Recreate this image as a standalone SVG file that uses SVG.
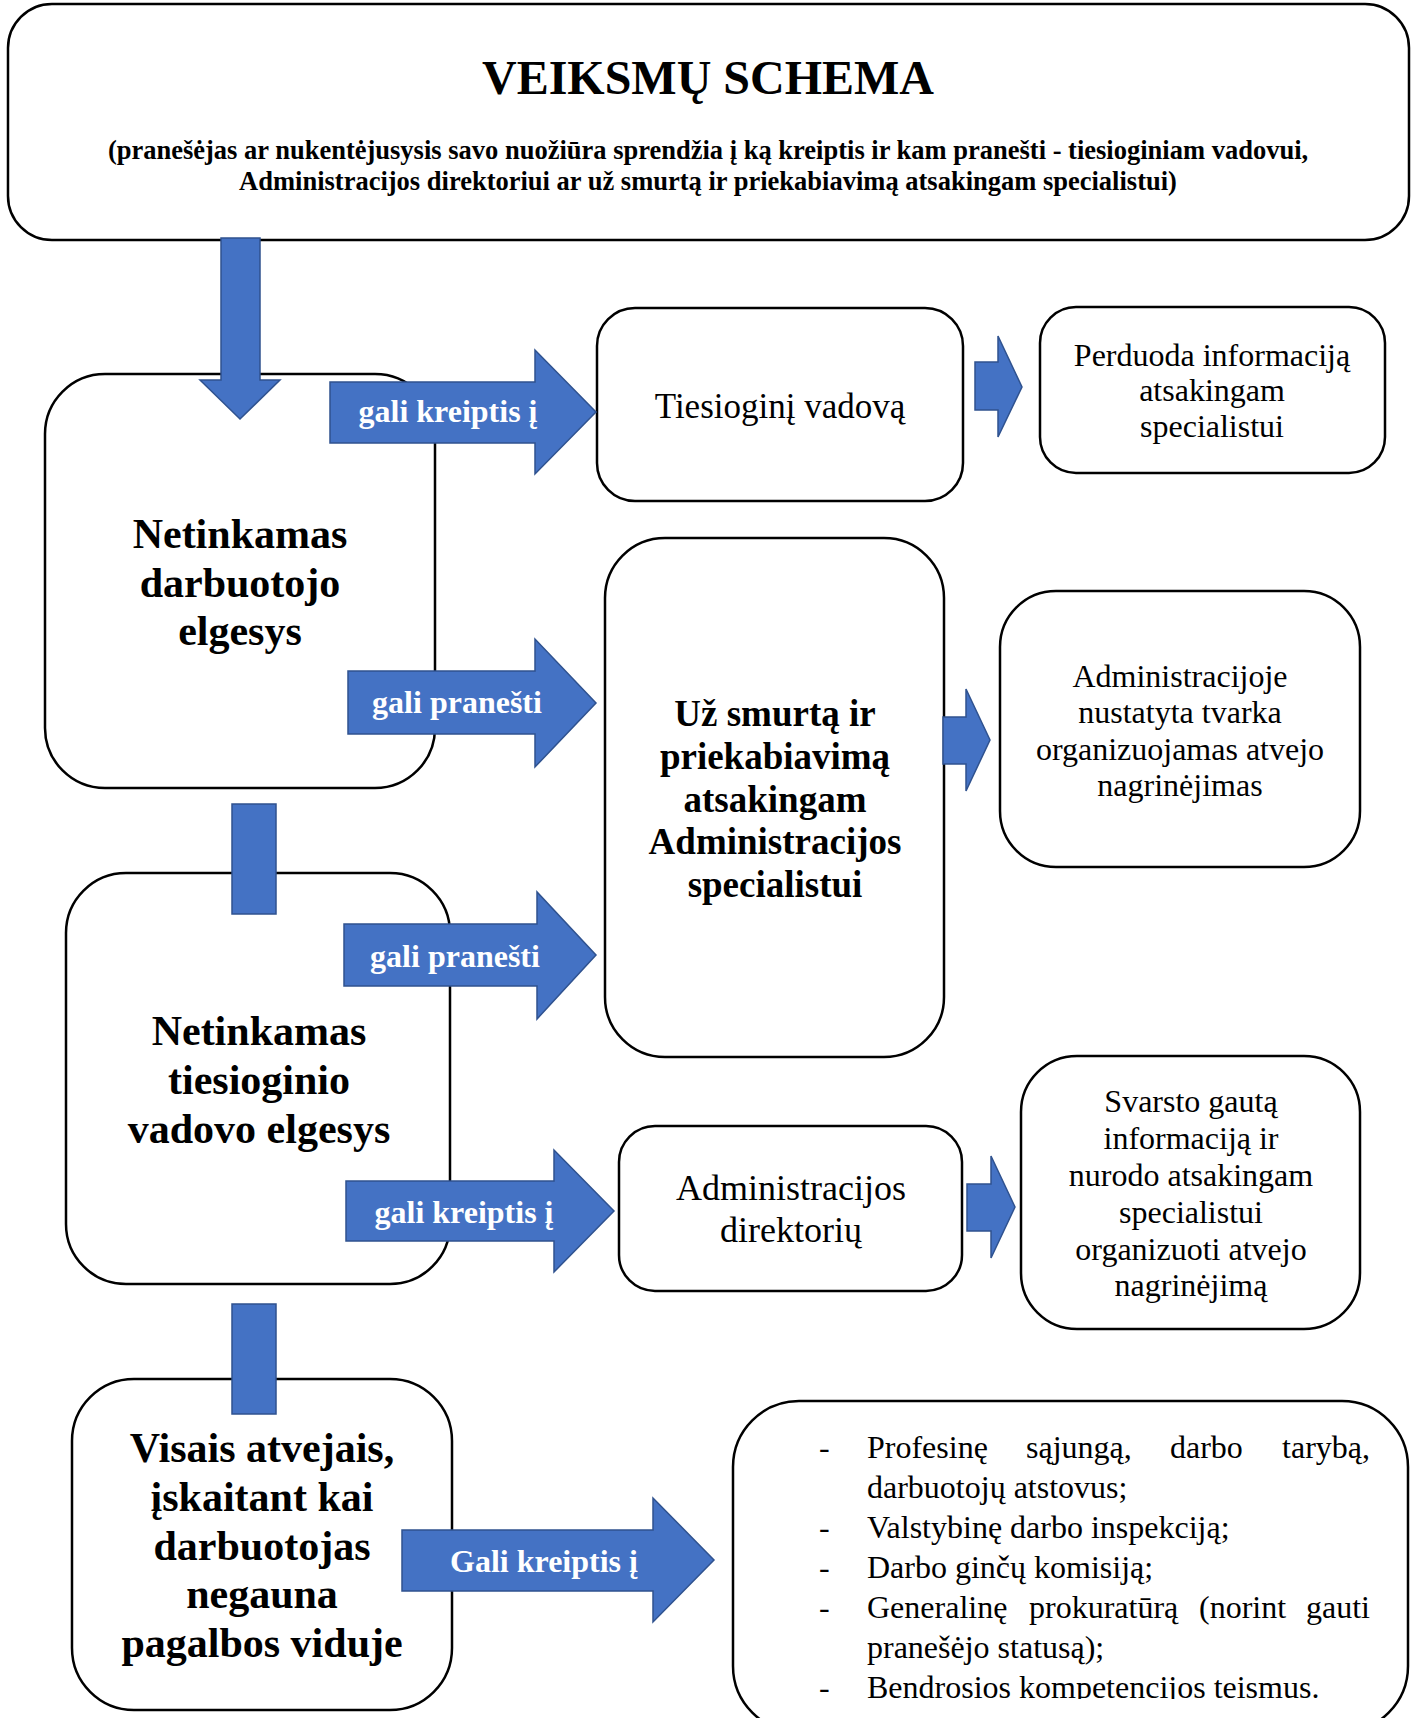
<svg xmlns="http://www.w3.org/2000/svg" width="1416" height="1718" viewBox="0 0 1416 1718">
<style>
.box{fill:#ffffff;stroke:#000000;stroke-width:2.5}
.arr{fill:#4472C4;stroke:#2F528F;stroke-width:1.5}
.t{font-family:"Liberation Serif","Times New Roman",serif;fill:#000000}
.b{font-weight:bold}
.c{text-anchor:middle}
.lbl{font-family:"Liberation Serif","Times New Roman",serif;font-weight:bold;font-size:32px;fill:#ffffff;text-anchor:middle}
.r32{font-size:32px}
</style>
<defs>
<clipPath id="listclip"><rect x="700" y="1400" width="716" height="299"/></clipPath>
</defs>
<rect x="0" y="0" width="1416" height="1718" fill="#ffffff"/>

<g id="header">
<rect class="box" x="8" y="4" width="1401" height="236" rx="44" ry="44"/>
<text class="t b c" x="708" y="94" font-size="48">VEIKSMŲ SCHEMA</text>
<text class="t b c" x="708" y="159" font-size="26.5">(pranešėjas ar nukentėjusysis savo nuožiūra sprendžia į ką kreiptis ir kam pranešti - tiesioginiam vadovui,</text>
<text class="t b c" x="708" y="190" font-size="26.5">Administracijos direktoriui ar už smurtą ir priekabiavimą atsakingam specialistui)</text>
</g>

<g id="node-darbuotojo">
<rect class="box" x="45" y="374" width="390" height="414" rx="60" ry="60"/>
<text class="t b c" x="240" y="548" font-size="42">Netinkamas</text>
<text class="t b c" x="240" y="596.5" font-size="42">darbuotojo</text>
<text class="t b c" x="240" y="645" font-size="42">elgesys</text>
</g>

<g id="node-tiesioginis">
<rect class="box" x="597" y="308" width="366" height="193" rx="38" ry="38"/>
<text class="t c" x="780" y="418" font-size="35">Tiesioginį vadovą</text>
</g>

<g id="node-perduoda">
<rect class="box" x="1040" y="307" width="345" height="166" rx="36" ry="36"/>
<text class="t c r32" x="1212" y="365.5">Perduoda informaciją</text>
<text class="t c r32" x="1212" y="401">atsakingam</text>
<text class="t c r32" x="1212" y="436.5">specialistui</text>
</g>

<g id="node-specialistas">
<rect class="box" x="605" y="538" width="339" height="519" rx="60" ry="60"/>
<text class="t b c" x="775" y="726" font-size="37">Už smurtą ir</text>
<text class="t b c" x="775" y="769" font-size="37">priekabiavimą</text>
<text class="t b c" x="775" y="811.5" font-size="37">atsakingam</text>
<text class="t b c" x="775" y="854" font-size="37">Administracijos</text>
<text class="t b c" x="775" y="896.5" font-size="37">specialistui</text>
</g>

<g id="node-tvarka">
<rect class="box" x="1000" y="591" width="360" height="276" rx="56" ry="56"/>
<text class="t c r32" x="1180" y="686.5">Administracijoje</text>
<text class="t c r32" x="1180" y="723">nustatyta tvarka</text>
<text class="t c r32" x="1180" y="759.5">organizuojamas atvejo</text>
<text class="t c r32" x="1180" y="796">nagrinėjimas</text>
</g>

<g id="node-vadovo">
<rect class="box" x="66" y="873" width="384" height="411" rx="60" ry="60"/>
<text class="t b c" x="259" y="1044.5" font-size="42">Netinkamas</text>
<text class="t b c" x="259" y="1093.5" font-size="42">tiesioginio</text>
<text class="t b c" x="259" y="1142.5" font-size="42">vadovo elgesys</text>
</g>

<g id="node-direktorius">
<rect class="box" x="619" y="1126" width="343" height="165" rx="36" ry="36"/>
<text class="t c" x="791" y="1200" font-size="36">Administracijos</text>
<text class="t c" x="791" y="1242" font-size="36">direktorių</text>
</g>

<g id="node-svarsto">
<rect class="box" x="1021" y="1056" width="339" height="273" rx="56" ry="56"/>
<text class="t c r32" x="1191" y="1112">Svarsto gautą</text>
<text class="t c r32" x="1191" y="1149">informaciją ir</text>
<text class="t c r32" x="1191" y="1186">nurodo atsakingam</text>
<text class="t c r32" x="1191" y="1223">specialistui</text>
<text class="t c r32" x="1191" y="1259.5">organizuoti atvejo</text>
<text class="t c r32" x="1191" y="1296">nagrinėjimą</text>
</g>

<g id="node-visais">
<rect class="box" x="72" y="1379" width="380" height="331" rx="62" ry="62"/>
<text class="t b c" x="262" y="1462" font-size="42">Visais atvejais,</text>
<text class="t b c" x="262" y="1511" font-size="42">įskaitant kai</text>
<text class="t b c" x="262" y="1560" font-size="42">darbuotojas</text>
<text class="t b c" x="262" y="1608" font-size="42">negauna</text>
<text class="t b c" x="262" y="1657" font-size="42">pagalbos viduje</text>
</g>

<g id="node-isorines">
<rect class="box" x="733" y="1401" width="675" height="331" rx="66" ry="66"/>
<g clip-path="url(#listclip)">
<text class="t r32" x="819" y="1458">-</text>
<text class="t r32" y="1458"><tspan x="867">Profesinę</tspan><tspan x="1026">sąjungą,</tspan><tspan x="1170">darbo</tspan></text>
<text class="t r32" x="1370" y="1458" text-anchor="end">tarybą,</text>
<text class="t r32" x="867" y="1498">darbuotojų atstovus;</text>
<text class="t r32" x="819" y="1538">-</text>
<text class="t r32" x="867" y="1538">Valstybinę darbo inspekciją;</text>
<text class="t r32" x="819" y="1578">-</text>
<text class="t r32" x="867" y="1578">Darbo ginčų komisiją;</text>
<text class="t r32" x="819" y="1618">-</text>
<text class="t r32" y="1618"><tspan x="867">Generalinę</tspan><tspan x="1029">prokuratūrą</tspan><tspan x="1199">(norint</tspan></text>
<text class="t r32" x="1370" y="1618" text-anchor="end">gauti</text>
<text class="t r32" x="867" y="1658">pranešėjo statusą);</text>
<text class="t r32" x="819" y="1698">-</text>
<text class="t r32" x="867" y="1698">Bendrosios kompetencijos teismus.</text>
</g>
</g>

<g id="connectors">
<polygon class="arr" points="221,238 260,238 260,380 280,380 240,419 200,380 221,380"/>
<polygon class="arr" points="330,382 535,382 535,350 596,412 535,474 535,443 330,443"/>
<text class="lbl" x="448" y="422">gali kreiptis į</text>
<polygon class="arr" points="975,362 998,362 998,336 1022,387 998,437 998,410 975,410"/>
<polygon class="arr" points="348,671 535,671 535,639 596,703 535,767 535,734 348,734"/>
<text class="lbl" x="457" y="713">gali pranešti</text>
<polygon class="arr" points="943,717 966,717 966,689 990,740 966,791 966,764 943,764"/>
<rect class="arr" x="232" y="804" width="44" height="110"/>
<polygon class="arr" points="344,924 537,924 537,892 596,955 537,1019 537,986 344,986"/>
<text class="lbl" x="455" y="967">gali pranešti</text>
<polygon class="arr" points="346,1181 554,1181 554,1150 614,1211 554,1272 554,1241 346,1241"/>
<text class="lbl" x="464" y="1223">gali kreiptis į</text>
<polygon class="arr" points="967,1184 991,1184 991,1156 1015,1207 991,1258 991,1231 967,1231"/>
<rect class="arr" x="232" y="1304" width="44" height="110"/>
<polygon class="arr" points="402,1530 653,1530 653,1498 714,1560 653,1622 653,1591 402,1591"/>
<text class="lbl" x="544" y="1572">Gali kreiptis į</text>
</g>
</svg>
